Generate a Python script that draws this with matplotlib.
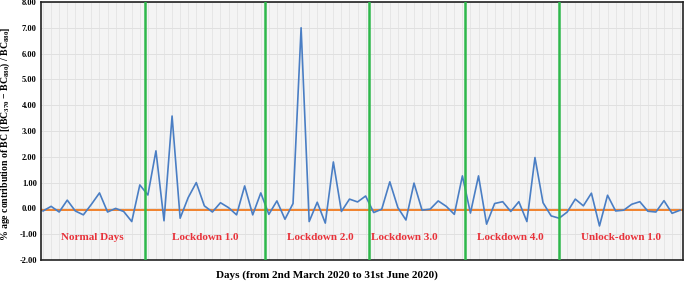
import numpy as np
import matplotlib
matplotlib.use('Agg')
import matplotlib.pyplot as plt

plt.rcParams['font.family'] = 'Liberation Serif'
plt.rcParams['mathtext.default'] = 'regular'

# percent contribution, one value per sampled day
values = [-0.10, 0.08, -0.14, 0.32, -0.10, -0.25, 0.16, 0.60, -0.14, 0.00,
          -0.12, -0.51, 0.91, 0.52, 2.23, -0.48, 3.58, -0.38, 0.42, 1.00,
          0.10, -0.14, 0.22, 0.03, -0.25, 0.87, -0.25, 0.60, -0.23, 0.29,
          -0.42, 0.19, 7.00, -0.51, 0.24, -0.57, 1.80, -0.12, 0.36, 0.25,
          0.48, -0.16, -0.03, 1.03, 0.03, -0.45, 0.98, -0.07, -0.03, 0.29,
          0.08, -0.23, 1.26, -0.18, 1.26, -0.61, 0.19, 0.26, -0.12, 0.26,
          -0.51, 1.97, 0.22, -0.29, -0.38, -0.14, 0.36, 0.10, 0.59, -0.68,
          0.51, -0.10, -0.07, 0.16, 0.26, -0.11, -0.14, 0.30, -0.19, -0.07]
baseline = -0.08

# phase boundaries (in sample index) and phase names
boundaries = [12.65, 27.55, 40.45, 52.35, 64.0]
phases = ['Normal Days', 'Lockdown 1.0', 'Lockdown 2.0', 'Lockdown 3.0',
          'Lockdown 4.0', 'Unlock-down 1.0']
phase_x = [6.1, 20.1, 34.4, 44.8, 58.0, 71.7]
yticks = np.arange(-2, 9, 1)

fig = plt.figure(figsize=(6.85, 2.81), dpi=100)
ax = fig.add_axes([0.0599, 0.0747, 0.9371, 0.9183])
ax.set_facecolor('#f4f4f4')

x = np.arange(len(values))
for i in x:
    ax.axvline(i, color='#e4e4e4', lw=0.6, zorder=0)
for v in yticks:
    ax.axhline(v, color='#e0e0e0', lw=0.7, zorder=0)

ax.plot(x, values, color='#4a7ec4', lw=1.2, zorder=3)
ax.axhline(baseline, color='#f0822d', lw=1.4, zorder=2)
for b in boundaries:
    ax.axvline(b, color='#2eb84b', lw=1.8, zorder=4)

for name, px in zip(phases, phase_x):
    ax.text(px, -1.14, name, color='#e8323a', fontweight='bold',
            fontsize=8, ha='center', va='center')

ax.set_xlim(-0.25, 79.35)
ax.set_ylim(-2, 8)
ax.set_yticks(yticks)
ax.set_yticklabels(['%.2f' % v for v in yticks], fontsize=6, fontweight='bold')
ax.set_xticks([])
ax.tick_params(axis='y', length=0, pad=3)
for s in ax.spines.values():
    s.set_color('#222222')
    s.set_linewidth(1.2)

ax.set_ylabel('% age contribution of BC [(BC$_{370}$ \u2212 BC$_{880}$) / BC$_{880}$]',
              fontsize=7.0, fontweight='bold')
ax.yaxis.set_label_coords(-0.045, 0.49)
fig.text(0.477, 0.022, 'Days (from 2nd March 2020 to 31st June 2020)',
         fontsize=8, fontweight='bold', ha='center', va='center')

fig.savefig('out.png', dpi=100)
